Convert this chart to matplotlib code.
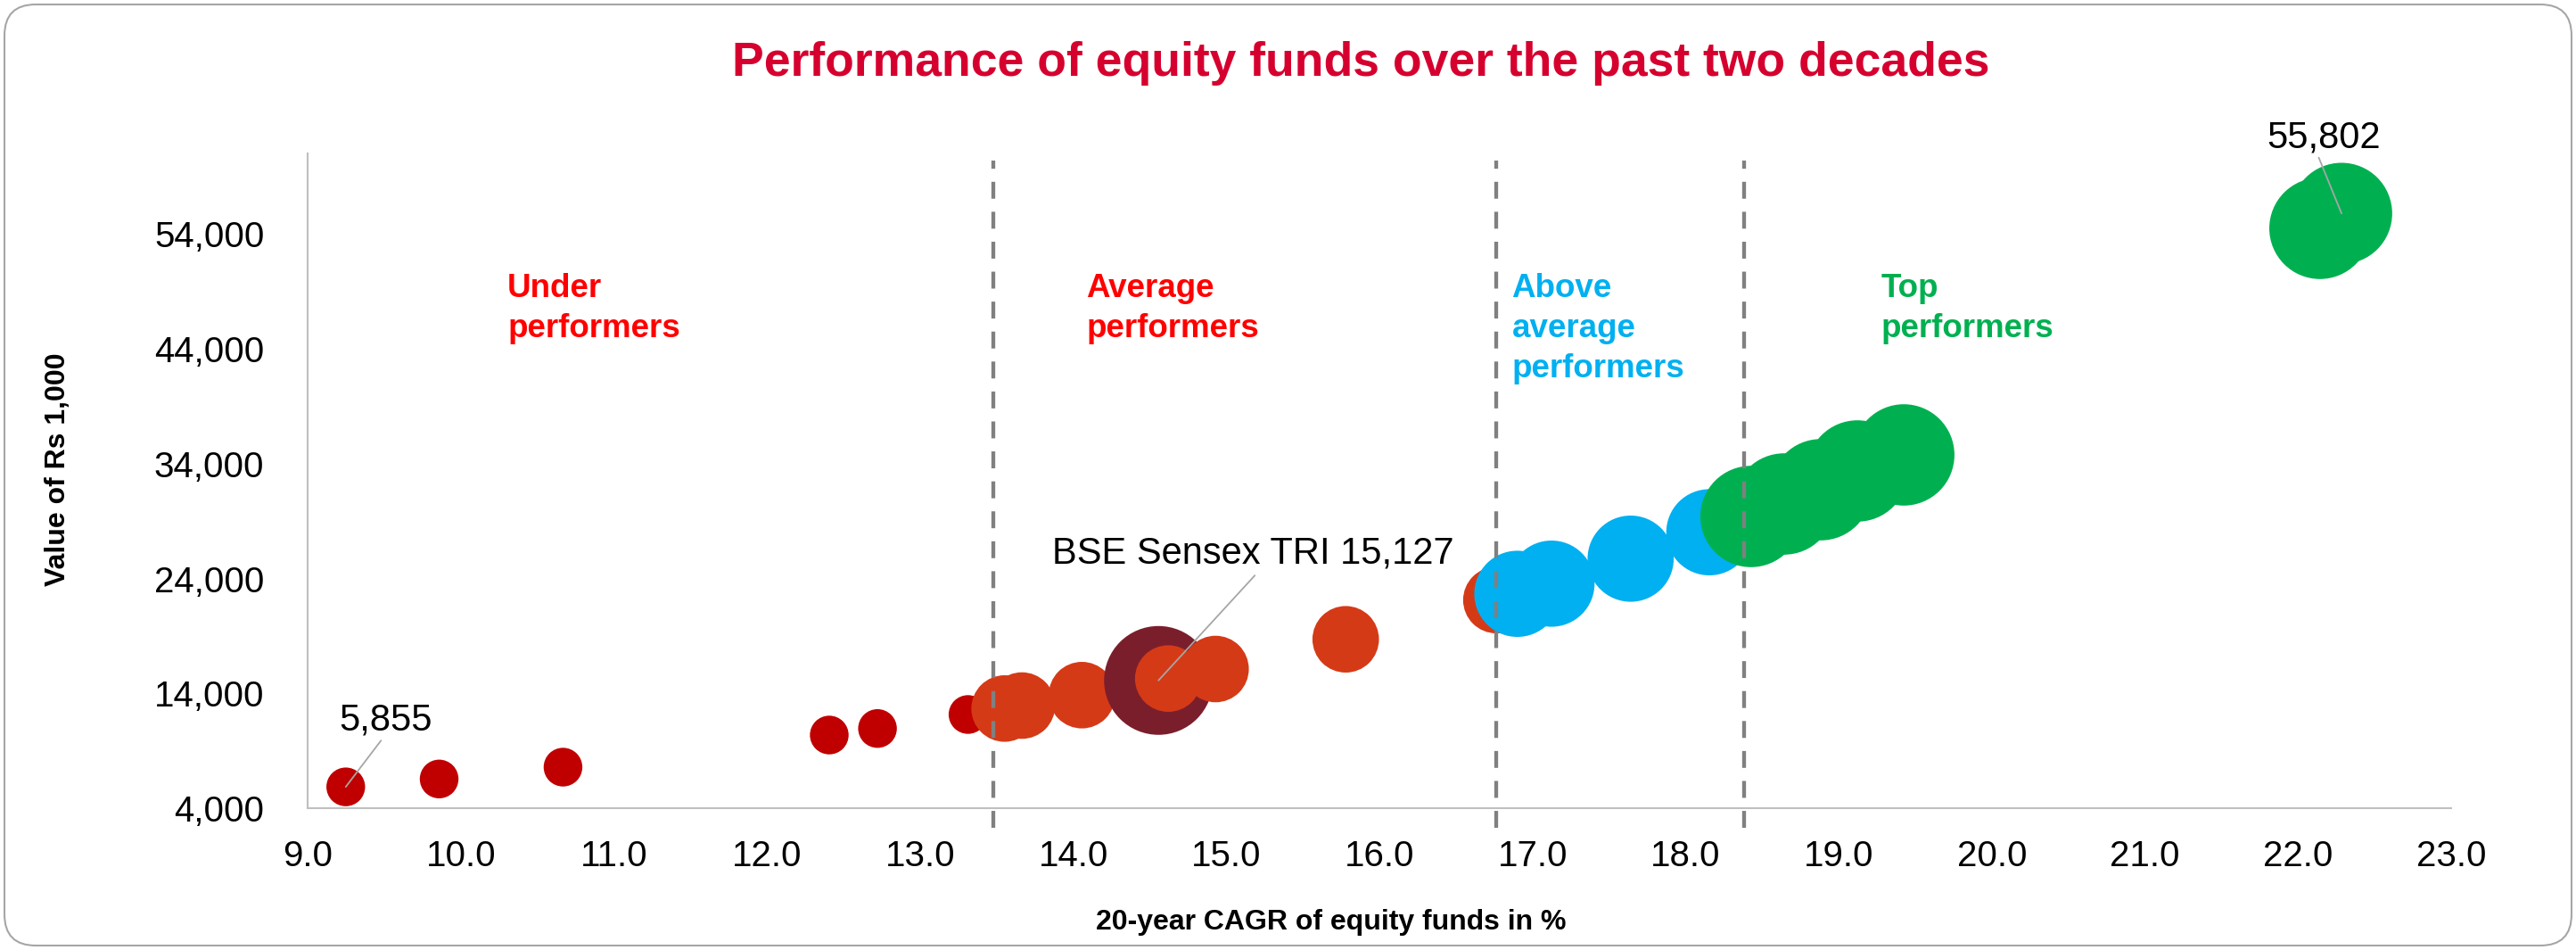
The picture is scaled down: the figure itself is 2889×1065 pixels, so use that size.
import matplotlib
matplotlib.use('Agg')
import matplotlib.pyplot as plt
from matplotlib.patches import FancyBboxPatch
from matplotlib.ticker import FuncFormatter

plt.rcParams['font.family'] = ['Liberation Sans', 'DejaVu Sans']

# ---------------- data ----------------
cagr = [9.249, 9.859, 10.668, 12.407, 12.722, 13.313,
        13.552, 13.665, 14.057, 14.557, 14.621, 14.930, 15.780, 16.764,
        16.901, 17.124, 17.641, 18.155,
        18.427, 18.643, 18.883, 19.122, 19.425, 22.143, 22.284]
value = [5855, 6541, 7574, 10371, 10939, 12159,
         12679, 12936, 13845, 15127, 15290, 16121, 18709, 22127,
         22671, 23557, 25733, 28033,
         29408, 30496, 31739, 33371, 34770, 54505, 55802]
group = (['under'] * 6 + ['average'] * 3 + ['sensex'] + ['average'] * 4
         + ['above'] * 4 + ['top'] * 7)

dividers = [13.48, 16.76, 18.38]

category_names = ['Under\nperformers', 'Average\nperformers',
                  'Above\naverage\nperformers', 'Top\nperformers']
category_x = [10.305, 14.087, 16.865, 19.274]
category_group = ['under', 'under', 'above', 'top']

x_ticks = list(range(9, 24))
y_ticks = [4000, 14000, 24000, 34000, 44000, 54000]

title = 'Performance of equity funds over the past two decades'
x_label = '20-year CAGR of equity funds in %'
y_label = 'Value of Rs 1,000'

# ---------------- styles ----------------
colors = {'under': '#C00000', 'average': '#D53A17', 'sensex': '#7B1E2C',
          'above': '#00B0F0', 'top': '#00B050'}
label_colors = {'under': '#FF0000', 'above': '#00B0F0', 'top': '#00B050'}
sizes = {'under': 976, 'average': 2884, 'sensex': 7713,
         'above': 4838, 'top': 6690}

W, H, DPI = 2889, 1065, 100
fig = plt.figure(figsize=(W / DPI, H / DPI), dpi=DPI)
fig.patch.set_facecolor('white')

ax = fig.add_axes([345 / W, 1 - 906 / H, (2749 - 345) / W, (906 - 172.4) / H])
ax.set_xlim(9, 23)
ax.set_ylim(4000, 61000)

ax.scatter(cagr, value, s=[sizes[g] for g in group],
           c=[colors[g] for g in group], linewidths=0, zorder=2)

# dividers (dashed, extending a little outside the plot area)
trans = ax.get_xaxis_transform()
for d in dividers:
    ax.plot([d, d], [-0.03, 0.99], transform=trans, color='#808080', lw=3.1,
            dashes=(4.4, 3.4), clip_on=False, zorder=4)

# category labels
for name, xpos, g in zip(category_names, category_x, category_group):
    ax.text(xpos, 50650, name, color=label_colors[g], fontsize=26.5,
            fontweight='bold', ha='left', va='top', linespacing=1.38, zorder=5)

# annotations
ann_color = '#A6A6A6'
def annotate(idx, text, text_off, line_off):
    ax.annotate('', xy=(cagr[idx], value[idx]), xytext=line_off,
                textcoords='offset points',
                arrowprops=dict(arrowstyle='-', color=ann_color, lw=1.3,
                                shrinkA=0, shrinkB=0), zorder=6)
    ax.annotate(text, xy=(cagr[idx], value[idx]), xytext=text_off,
                textcoords='offset points', ha='center', va='baseline',
                fontsize=30, color='black', zorder=6)

annotate(0, f'{value[0]:,}', (32.4, 46), (28.5, 37.4))
annotate(9, f'BSE Sensex TRI {value[9]:,}', (76.3, 94.3), (77.8, 84.7))
annotate(24, f'{value[24]:,}', (-14.4, 52.8), (-18.4, 45.1))

# axes styling
for s in ['top', 'right']:
    ax.spines[s].set_visible(False)
for s in ['left', 'bottom']:
    ax.spines[s].set_color('#BFBFBF')
    ax.spines[s].set_linewidth(1.5)
ax.set_xticks(x_ticks)
ax.set_yticks(y_ticks)
ax.xaxis.set_major_formatter(FuncFormatter(lambda v, p: f'{v:.1f}'))
ax.yaxis.set_major_formatter(FuncFormatter(lambda v, p: f'{int(v):,}'))
ax.tick_params(axis='both', length=0, labelsize=29, colors='black')
ax.tick_params(axis='y', pad=35)
ax.tick_params(axis='x', pad=25)

fig.text(1526.5 / W, 1 - 85 / H, title, ha='center', va='baseline',
         fontsize=38.5, fontweight='bold', color='#D6002F')
fig.text(1493 / W, 1 - 1042 / H, x_label, ha='center', va='baseline',
         fontsize=23, fontweight='bold', color='black')
fig.text(65 / W, 1 - 526 / H, y_label, ha='center', va='center',
         rotation=90, fontsize=23, fontweight='bold', color='black')

# rounded outer border
border = FancyBboxPatch((0.05, 0.05), W / DPI - 0.1, H / DPI - 0.1,
                        boxstyle='round,pad=0,rounding_size=0.35',
                        transform=fig.dpi_scale_trans, fill=False,
                        edgecolor='#A6A6A6', lw=1.5)
fig.add_artist(border)

fig.savefig('out.png', dpi=DPI)
